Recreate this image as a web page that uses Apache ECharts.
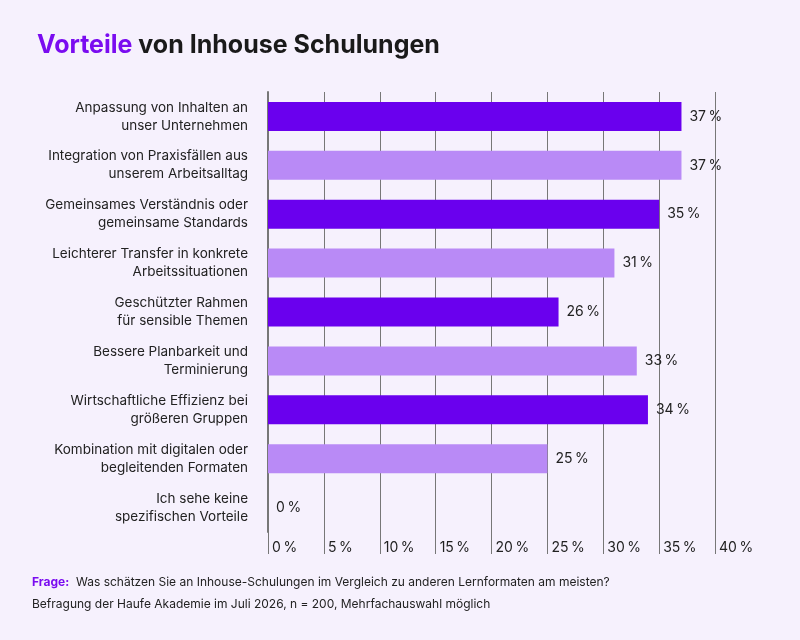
<!DOCTYPE html>
<html><head><meta charset="utf-8">
<script src="https://cdn.jsdelivr.net/npm/echarts@6/dist/echarts.min.js"></script>
<style>html,body{margin:0;background:#f6f1fd;}#c{width:800px;height:640px;}</style>
</head><body><div id="c"></div>
<script>
const categories = [
 "Anpassung von Inhalten an\nunser Unternehmen",
 "Integration von Praxisfällen aus\nunserem Arbeitsalltag",
 "Gemeinsames Verständnis oder\ngemeinsame Standards",
 "Leichterer Transfer in konkrete\nArbeitssituationen",
 "Geschützter Rahmen\nfür sensible Themen",
 "Bessere Planbarkeit und\nTerminierung",
 "Wirtschaftliche Effizienz bei\ngrößeren Gruppen",
 "Kombination mit digitalen oder\nbegleitenden Formaten",
 "Ich sehe keine\nspezifischen Vorteile"
];
const values = [37, 37, 35, 31, 26, 33, 34, 25, 0];
const ticks = [0,5,10,15,20,25,30,35,40];
const dark = '#6a00ee', light = '#b98af6';
const F = 'Inter, "Noto Sans", sans-serif';
const chart = echarts.init(document.getElementById('c'));
chart.setOption({
 backgroundColor:'#f6f1fd',
 textStyle:{fontFamily:F},
 title:{text:'{a|Vorteile} von Inhouse Schulungen',left:32,top:28,
  textStyle:{fontFamily:F,fontSize:25,fontWeight:'bold',color:'#1a1a1a',rich:{a:{fontFamily:F,fontSize:25,fontWeight:'bold',color:'#7a0cf0'}}}},
 graphic:[
  {type:'text',left:32,top:576,style:{text:'{b|Frage:}  Was schätzen Sie an Inhouse-Schulungen im Vergleich zu anderen Lernformaten am meisten?',
   font:'12px '+F,fill:'#222',rich:{b:{font:'bold 12px '+F,fill:'#7a0cf0'}}}},
  {type:'text',left:32,top:598,style:{text:'Befragung der Haufe Akademie im Juli 2026, n = 200, Mehrfachauswahl möglich',font:'12px '+F,fill:'#222'}}
 ],
 grid:{left:268,right:85,top:92,bottom:108},
 xAxis:{type:'value',min:0,max:40,interval:5,position:'bottom',
  axisLine:{show:false},
  axisTick:{show:true,length:22,lineStyle:{color:'#777',width:1}},
  splitLine:{show:true,lineStyle:{color:'#777',width:1}},
  axisLabel:{margin:9,verticalAlign:'top',align:'left',padding:[0,0,0,4],fontSize:14,color:'#222',fontFamily:F,
   formatter:v=>ticks.includes(v)?v+'\u202f%':''}},
 yAxis:{type:'category',inverse:true,data:categories,
  axisLine:{show:true,lineStyle:{color:'#777',width:2}},axisTick:{show:false},
  axisLabel:{margin:20,fontSize:13.5,lineHeight:18,color:'#222',align:'right',fontFamily:F}},
 series:[{type:'bar',barWidth:29,
  data:values.map((v,i)=>({value:v,itemStyle:{color:i%2?light:dark}})),
  label:{show:true,position:'right',distance:8,fontSize:14,color:'#222',fontFamily:F,formatter:p=>p.value+'\u202f%'}}]
});
</script></body></html>
